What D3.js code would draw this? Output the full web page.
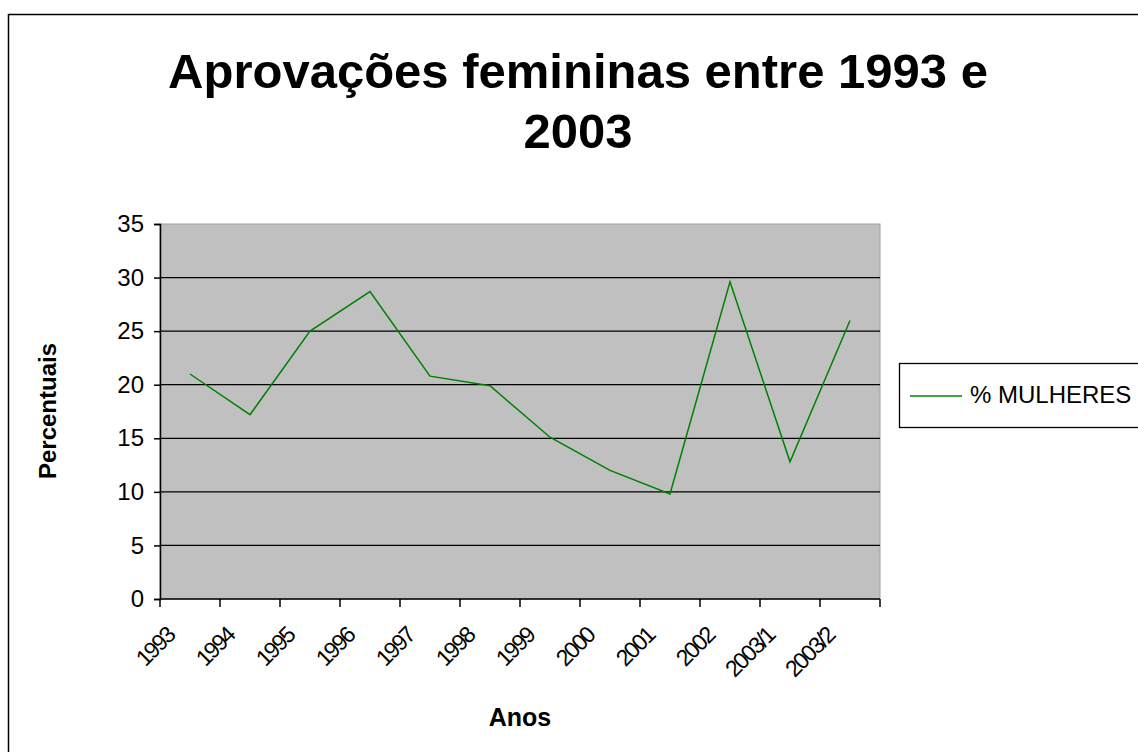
<!DOCTYPE html>
<html>
<head>
<meta charset="utf-8">
<script src="https://cdn.jsdelivr.net/npm/d3@7"></script>
<style>
  body { margin: 0; background: #fff; }
  text { font-family: "Liberation Sans", Arial, sans-serif; }
</style>
</head>
<body>
<script>
    var anos = ["1993", "1994", "1995", "1996", "1997", "1998", "1999", "2000", "2001", "2002", "2003/1", "2003/2"];
    var mulheres = [21.0, 17.2, 25.0, 28.7, 20.8, 19.9, 15.1, 12.0, 9.8, 29.6, 12.8, 26.0];
    var yTicks = [0, 5, 10, 15, 20, 25, 30, 35];

    var width = 1138, height = 752;
    var plot = {left: 160, top: 224, right: 880, bottom: 599};

    var svg = d3.select("body")
    .append("svg").attr("width", width).attr("height", height)

    // outer chart border (runs off the right and bottom edges)
    svg.append("rect")
    .attr("x", 8.5).attr("y", 14.5)
    .attr("width", 1140).attr("height", 750)
    .style("fill", "none").style("stroke", "#000").style("stroke-width", 1.5)

    /* scales */
    var x = d3.scaleBand().domain(anos).range([plot.left, plot.right]);
    var y = d3.scaleLinear().domain([0, 35]).range([plot.bottom, plot.top]);

    // plot area
    svg.append("rect")
    .attr("x", plot.left).attr("y", plot.top)
    .attr("width", plot.right - plot.left).attr("height", plot.bottom - plot.top)
    .style("fill", "#c0c0c0").style("stroke", "#a0a0a0")

    // gridlines
    svg.append("g").selectAll("line")
    .data(yTicks.filter(function(d){ return d > 0 && d < 35; }))
    .enter().append("line")
    .attr("x1", plot.left).attr("x2", plot.right)
    .attr("y1", function(d){ return y(d); }).attr("y2", function(d){ return y(d); })
    .style("stroke", "#000").style("stroke-width", 1.3)

    // y axis
    var yAxis = svg.append("g")
    .attr("transform", "translate(" + plot.left + ",0)")
    .call(d3.axisLeft(y).tickValues(yTicks).tickSize(6).tickPadding(10))
    yAxis.select(".domain").style("stroke", "#000").style("stroke-width", 1.5)
    yAxis.selectAll("line").style("stroke", "#000").style("stroke-width", 1.5)
    yAxis.selectAll("text").style("font-size", "24px").style("fill", "#000")
    .style("font-family", "Liberation Sans, Arial, sans-serif")

    // x axis: ticks between categories
    var xAxis = svg.append("g")
    .attr("transform", "translate(0," + plot.bottom + ")")
    xAxis.append("line")
    .attr("x1", plot.left).attr("x2", plot.right)
    .style("stroke", "#000").style("stroke-width", 1.5)
    xAxis.selectAll(".tk")
    .data(anos.concat(["end"]))
    .enter().append("line").attr("class", "tk")
    .attr("x1", function(d, i){ return plot.left + i * x.bandwidth(); })
    .attr("x2", function(d, i){ return plot.left + i * x.bandwidth(); })
    .attr("y1", 0).attr("y2", 8)
    .style("stroke", "#000").style("stroke-width", 1.5)
    xAxis.selectAll(".lbl")
    .data(anos)
    .enter().append("text").attr("class", "lbl")
    .attr("transform", function(d){
        return "translate(" + (x(d) + x.bandwidth() / 2 - 14) + ",38) rotate(-45)";
    })
    .attr("text-anchor", "end")
    .style("font-size", "23px")
    .style("letter-spacing", "-2px")
    .text(function(d){ return d; })

    // series line
    var line = d3.line()
    .x(function(d, i){ return x(anos[i]) + x.bandwidth() / 2; })
    .y(function(d){ return y(d); });

    svg.append("path")
    .datum(mulheres)
    .attr("d", line)
    .style("fill", "none").style("stroke", "#008000").style("stroke-width", 1.5)

    // title
    var title = svg.append("text")
    .attr("x", 578).attr("text-anchor", "middle")
    .style("font-size", "49px").style("font-weight", "bold")
    title.append("tspan").attr("x", 578).attr("y", 88).text("Aprovações femininas entre 1993 e")
    title.append("tspan").attr("x", 578).attr("y", 148).text("2003")

    // axis titles
    svg.append("text")
    .attr("transform", "translate(56,411) rotate(-90)")
    .attr("text-anchor", "middle")
    .style("font-size", "24px").style("font-weight", "bold")
    .text("Percentuais")

    svg.append("text")
    .attr("x", 520).attr("y", 726)
    .attr("text-anchor", "middle")
    .style("font-size", "25px").style("font-weight", "bold")
    .text("Anos")

    // legend
    var legend = svg.append("g")
    legend.append("rect")
    .attr("x", 899.5).attr("y", 363.5)
    .attr("width", 260).attr("height", 64)
    .style("fill", "#fff").style("stroke", "#000").style("stroke-width", 1.3)
    legend.append("line")
    .attr("x1", 910).attr("x2", 962).attr("y1", 396).attr("y2", 396)
    .style("stroke", "#008000").style("stroke-width", 1.5)
    legend.append("text")
    .attr("x", 970).attr("y", 403)
    .style("font-size", "24px")
    .text("% MULHERES")
</script>
</body>
</html>
